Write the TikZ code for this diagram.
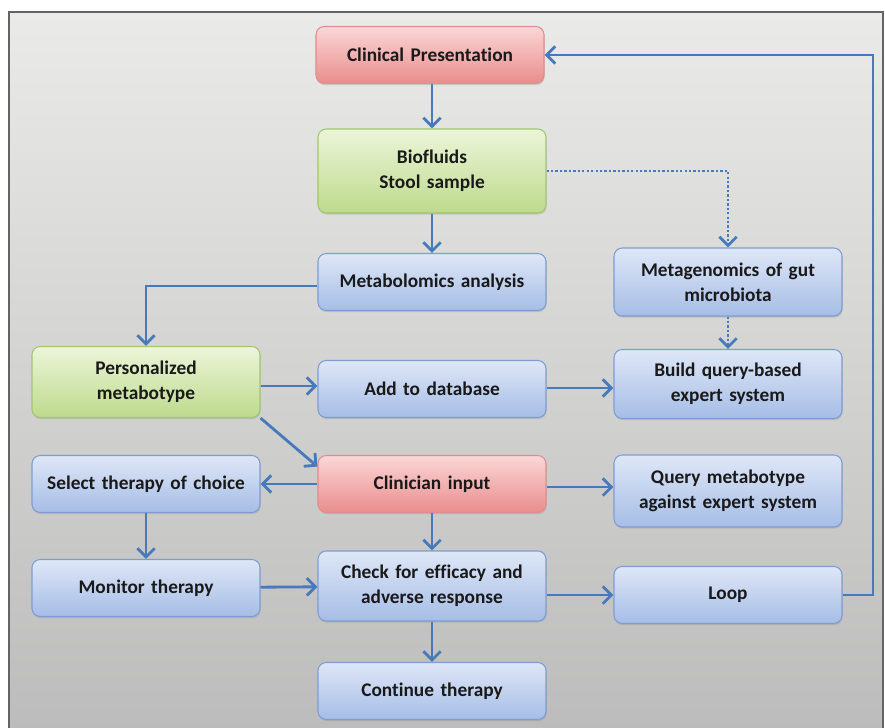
\documentclass[tikz,border=0pt]{standalone}
\usepackage{fontspec}
\setmainfont{Carlito}[Ligatures=NoCommon]
\usetikzlibrary{positioning,arrows.meta,calc,shadows}
\definecolor{flowblue}{RGB}{70,122,186}
\definecolor{bluetop}{RGB}{222,231,247}
\definecolor{bluebot}{RGB}{166,189,230}
\definecolor{blueline}{RGB}{126,156,210}
\definecolor{redtop}{RGB}{251,214,214}
\definecolor{redbot}{RGB}{233,141,141}
\definecolor{redline}{RGB}{222,142,142}
\definecolor{greentop}{RGB}{236,245,217}
\definecolor{greenbot}{RGB}{190,218,140}
\definecolor{greenline}{RGB}{160,198,112}
\definecolor{bgtop}{RGB}{234,234,232}
\definecolor{bgbot}{RGB}{186,186,186}
\definecolor{framegray}{RGB}{100,100,100}
\tikzset{
  flowbox/.style={draw=blueline, line width=0.9pt, rounded corners=7pt, align=center,
    font=\fontsize{16.5}{21}\selectfont\bfseries, text width=6.5cm,
    minimum width=6.84cm, minimum height=1.71cm, inner sep=2pt,
    top color=bluetop, bottom color=bluebot, text=black!90,
    drop shadow={opacity=0.25, shadow xshift=0.6pt, shadow yshift=-1.4pt}},
  flowred/.style={flowbox, draw=redline, top color=redtop, bottom color=redbot},
  flowgreen/.style={flowbox, draw=greenline, top color=greentop, bottom color=greenbot},
  flowarrow/.style={-{Straight Barb[length=2.6mm, width=5.2mm]}, line width=2.4pt, draw=flowblue},
  flowdot/.style={flowarrow, dash pattern=on 2pt off 1.8pt},
}

\begin{document}
\begin{tikzpicture}[x=0.03cm, y=-0.03cm]
  \useasboundingbox (0,0) rectangle (885,728);
  \clip (0,0) rectangle (885,728);
  % frame
  \fill[top color=bgtop, bottom color=bgbot] (9,12) rectangle (883,760);
  \draw[framegray, line width=1.4pt] (9,760) -- (9,12) -- (883,12) -- (883,760);
  % boxes
  \node[flowred] (cp) at (430,55) {Clinical Presentation};
  \node[flowgreen, minimum height=2.52cm] (bio) at (432,171) {Biofluids\\Stool sample};
  \node[flowbox] (metab) at (432,282) {Metabolomics analysis};
  \node[flowbox, minimum height=2.04cm] (metag) at (728,282) {Metagenomics of gut\\microbiota};
  \node[flowgreen, minimum height=2.13cm] (pers) at (146,382) {Personalized\\metabotype};
  \node[flowbox] (adddb) at (432,389) {Add to database};
  \node[flowbox, minimum height=2.07cm] (build) at (728,384) {Build query-based\\expert system};
  \node[flowbox] (select) at (146,484) {Select therapy of choice};
  \node[flowred] (clin) at (432,484) {Clinician input};
  \node[flowbox, minimum height=2.16cm] (query) at (728,491) {Query metabotype\\against expert system};
  \node[flowbox] (monitor) at (146,588) {Monitor therapy};
  \node[flowbox, minimum height=2.1cm] (check) at (432,586) {Check for efficacy and\\adverse response};
  \node[flowbox] (loop) at (728,595) {Loop};
  \node[flowbox] (cont) at (432,691) {Continue therapy};
  % connectors
  \coordinate (loopturn) at (873,595);
  \draw[flowarrow] (cp.south -| bio.north) -- (bio.north);
  \draw[flowarrow] (bio) -- (metab);
  \draw[flowdot] (bio.east) -| (metag.north);
  \draw[flowdot] (metag) -- (build);
  \draw[flowarrow] (metab.west |- 0,286) -| (pers.north);
  \draw[flowarrow] (pers.east |- 0,386) -- (adddb.west |- 0,386);
  \draw[flowarrow] (adddb.east |- 0,388) -- (build.west |- 0,388);
  \draw[flowarrow] (pers.south east) -- ($(clin.north west)!0.4!(clin.west)$);
  \draw[flowarrow] (clin) -- (select);
  \draw[flowarrow] (clin.east |- 0,487) -- (query.west |- 0,487);
  \draw[flowarrow] (clin) -- (check);
  \draw[flowarrow] (select) -- (monitor);
  \draw[flowarrow] (monitor) -- (check);
  \draw[flowarrow] (check.east |- loop) -- (loop.west);
  \draw[flowarrow] (check) -- (cont);
  \draw[flowarrow] (loop.east) -- (loopturn) |- (cp.east);
\end{tikzpicture}
\end{document}
